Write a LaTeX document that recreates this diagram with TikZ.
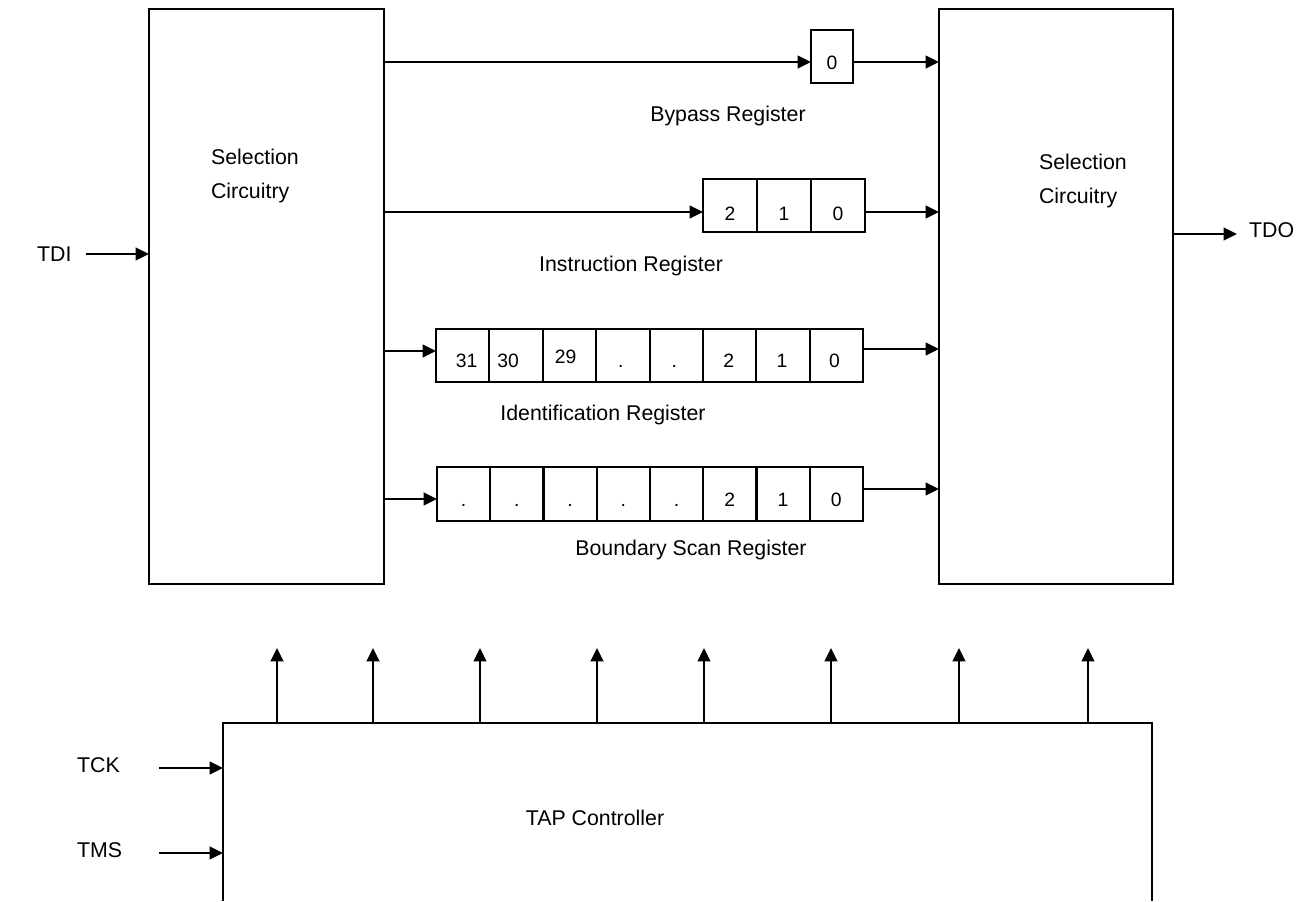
\documentclass[tikz,border=0pt]{standalone}
\usepackage{fontspec}
\setmainfont{Liberation Sans}
\usetikzlibrary{arrows.meta}
\begin{document}
\begin{tikzpicture}[x=0.75pt,y=-0.75pt,
  line width=1.6pt, line join=miter,
  blk/.style={draw, line width=1.6pt, outer sep=0pt, inner sep=0pt, anchor=north west},
  cellbox/.style={blk, minimum height=53*0.75pt},
  arr/.style={-{Triangle[length=10pt,width=9.5pt]}, line width=1.6pt},
  lbl/.style={font=\fontsize{16}{19}\selectfont, inner sep=0pt},
  dig/.style={font=\fontsize{14.5}{17}\selectfont, inner sep=0pt, anchor=base}]
\useasboundingbox (0,0) rectangle (1303,901);

% selection blocks
\node[blk, minimum width=235*0.75pt, minimum height=575*0.75pt] (selL) at (149,9) {};
\node[blk, minimum width=234*0.75pt, minimum height=575*0.75pt] (selR) at (939,9) {};
\node[lbl, anchor=base west] (selLa) at (210,164) {Selection};
\node[lbl, anchor=base west] (selLb) at (210,198) {Circuitry};
\node[lbl, anchor=base west] (selRa) at (1038,169) {Selection};
\node[lbl, anchor=base west] (selRb) at (1038,203) {Circuitry};

% bypass register
\node[cellbox, minimum width=42*0.75pt] (bp0) at (811,30) {};
\node[dig] (bpt0) at (832,69) {0};
\node[lbl, anchor=base] (bplbl) at (728,121) {Bypass Register};

% instruction register
\foreach \i/\x/\t in {0/703/2, 1/757/1, 2/811/0}{
  \node[cellbox, minimum width=53.7*0.75pt] (ir\i) at (\x,179) {};
  \node[dig] (irt\i) at (\x+27,220) {\t};
}
\node[lbl, anchor=base] (irlbl) at (631,271) {Instruction Register};

% identification register
\foreach \i/\t/\b/\dx in {0/31/367/4, 1/30/367/-8, 2/29/363/-4, 3/./367/-2, 4/./367/-2, 5/2/367/-1, 6/1/367/-1, 7/0/367/-2}{
  \node[cellbox, minimum width=53.4*0.75pt] (id\i) at (436+53.4*\i,329) {};
  \node[dig] (idt\i) at (436+53.4*\i+26.7+\dx,\b) {\t};
}
\node[lbl, anchor=base] (idlbl) at (603,420) {Identification Register};

% boundary scan register
\foreach \i/\t in {0/., 1/., 2/., 3/., 4/., 5/2, 6/1, 7/0}{
  \node[cellbox, minimum width=53.25*0.75pt, minimum height=54*0.75pt] (bs\i) at (437+53.25*\i,467) {};
  \node[dig] (bst\i) at (437+53.25*\i+26.6,506) {\t};
}
\node[lbl, anchor=base] (bslbl) at (691,555) {Boundary Scan Register};

% register connectors
\coordinate (bpin) at (811,62);
\draw[arr] (selL.east |- bpin) -- (bp0.west |- bpin);
\draw[arr] (bp0.east |- bpin) -- (selR.west |- bpin);
\coordinate (irin) at (703,212);
\draw[arr] (selL.east |- irin) -- (ir0.west |- irin);
\draw[arr] (ir2.east |- irin) -- (selR.west |- irin);
\coordinate (idin) at (436,351);
\coordinate (idout) at (863,349);
\draw[arr] (selL.east |- idin) -- (id0.west |- idin);
\draw[arr] (id7.east |- idout) -- (selR.west |- idout);
\coordinate (bsin) at (437,499);
\coordinate (bsout) at (863,489);
\draw[arr] (selL.east |- bsin) -- (bs0.west |- bsin);
\draw[arr] (bs7.east |- bsout) -- (selR.west |- bsout);

% TDI / TDO
\coordinate (tdi) at (86,254);
\draw[arr] (tdi) -- (selL.west |- tdi);
\node[lbl, anchor=base west] (tdilbl) at (36,261) {TDI};
\coordinate (tdo) at (1237,234);
\draw[arr] (selR.east |- tdo) -- (tdo);
\node[lbl, anchor=base west] (tdolbl) at (1248,237) {TDO};

% TAP controller
\node[blk, draw=none, minimum width=929*0.75pt, minimum height=178*0.75pt] (tap) at (223,723) {};
\draw (tap.south west) -- (tap.north west) -- (tap.north east) -- (tap.south east);
\node[lbl, anchor=base] (taplbl) at (595,825) {TAP Controller};
\foreach \i/\x in {1/277, 2/373, 3/480, 4/597, 5/704, 6/831, 7/959, 8/1088}{
  \coordinate (up\i) at (\x,648);
  \draw[arr] (tap.north -| up\i) -- (up\i);
}
\coordinate (tck) at (159,768);
\draw[arr] (tck) -- (tap.west |- tck);
\node[lbl, anchor=base west] (tcklbl) at (76,772) {TCK};
\coordinate (tms) at (159,853);
\draw[arr] (tms) -- (tap.west |- tms);
\node[lbl, anchor=base west] (tmslbl) at (76,857) {TMS};
\end{tikzpicture}
\end{document}
